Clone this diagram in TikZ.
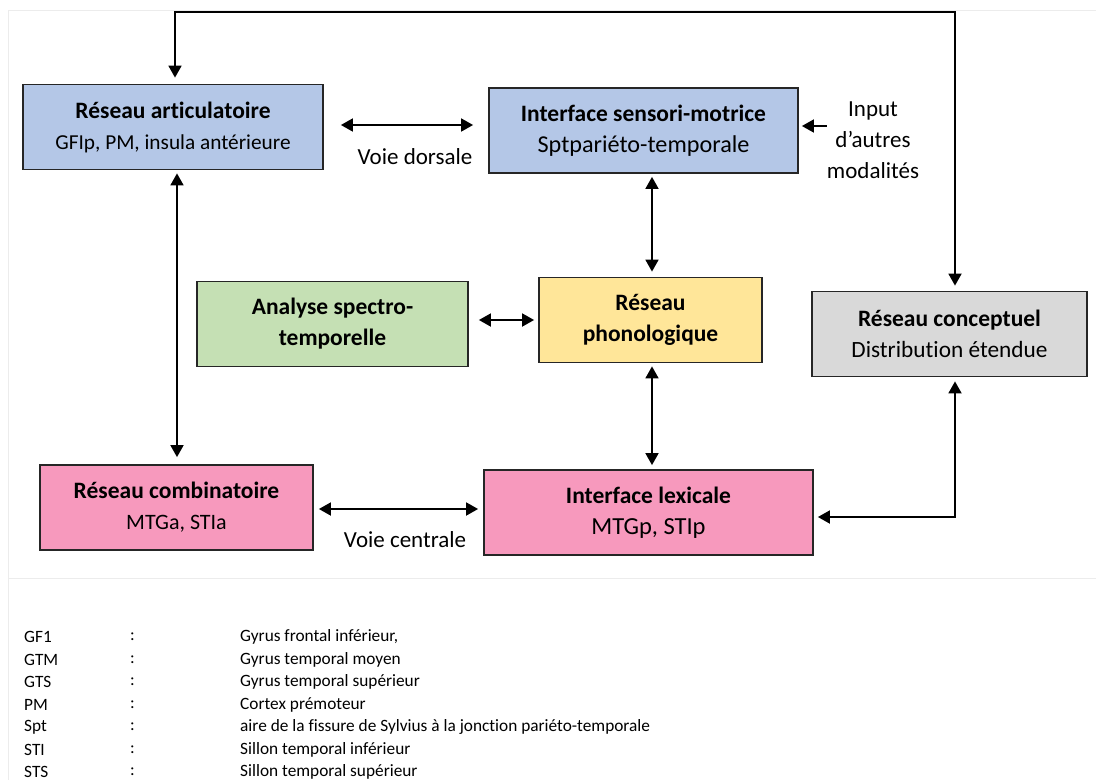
\documentclass[tikz,border=0pt]{standalone}
\usepackage{fontspec}
\setmainfont{Carlito}[Ligatures=NoCommon]
\usetikzlibrary{arrows.meta}
\definecolor{cblue}{HTML}{B4C7E7}
\definecolor{cgreen}{HTML}{C5E0B4}
\definecolor{cyellow}{HTML}{FFE699}
\definecolor{cgrey}{HTML}{D9D9D9}
\definecolor{cpink}{HTML}{F799BD}
\definecolor{cframe}{HTML}{ECECEC}
\newcommand{\hd}[1]{{\fontsize{23.5}{31}\selectfont\bfseries #1}}
\newcommand{\sub}[2]{{\fontsize{#1}{31}\selectfont #2}}
\begin{document}
\begin{tikzpicture}[x=1pt,y=-1pt,
  box/.style={draw=black!85, line width=1.8pt, align=center, inner sep=0pt,
    minimum height=85pt, font=\fontsize{22.5}{31}\selectfont},
  arr/.style={line width=1.8pt, {Triangle[length=12pt,width=13pt]}-{Triangle[length=12pt,width=13pt]}},
  arrone/.style={line width=1.8pt, -{Triangle[length=12pt,width=13pt]}},
  lbl/.style={font=\fontsize{23}{31}\selectfont, align=center, inner sep=0pt},
  leg/.style={font=\fontsize{17.3}{20}\selectfont, anchor=west, inner sep=0pt}
]
\useasboundingbox (0,0) rectangle (1096,780);
% light frame
\draw[cframe, line width=1pt] (8,780) -- (8,10) -- (1096,10);
\draw[cframe, line width=1pt] (8,578) -- (1096,578);

\node[box, fill=cblue, minimum width=300pt] (artic) at (173,127)
  {\hd{Réseau articulatoire}\\\sub{21.3}{GFIp, PM, insula antérieure}};
\node[box, fill=cblue, minimum width=309pt] (senso) at (643.5,130.5)
  {\hd{Interface sensori-motrice}\\\sub{24.2}{Sptpariéto-temporale}};
\node[box, fill=cgreen, minimum width=271pt] (analy) at (332.5,324)
  {\hd{Analyse spectro-}\\\hd{temporelle}};
\node[box, fill=cyellow, minimum width=223pt] (phono) at (650.5,320)
  {\hd{Réseau}\\\hd{phonologique}};
\node[box, fill=cgrey, minimum width=275pt] (conc) at (949.5,334)
  {\hd{Réseau conceptuel}\\\sub{23.3}{Distribution étendue}};
\node[box, fill=cpink, minimum width=273pt] (combi) at (176.5,507.5)
  {\hd{Réseau combinatoire}\\\sub{22}{MTGa, STIa}};
\node[box, fill=cpink, minimum width=329pt] (lexi) at (648.5,512.5)
  {\hd{Interface lexicale}\\\sub{24.5}{MTGp, STIp}};

\node[lbl] (input) at (873,140) {Input\\d’autres\\modalités};
\node[lbl] (vdors) at (415,157) {Voie dorsale};
\node[lbl] (vcent) at (405,540) {Voie centrale};

\coordinate (tl) at (175,12);
\coordinate (tr) at (955,12);
\coordinate (br) at (955,517);

% feedback loop top
\draw[arr, shorten <=6pt, shorten >=5pt, line join=miter] (artic.north -| tl) -- (tl) -- (tr) -- (tr |- conc.north);
% dorsal
\draw[arr, shorten <=17pt, shorten >=15pt] (artic.east |- 0,125) -- (senso.west |- 0,125);
% input
\draw[arrone, shorten >=3pt] (input.west |- 0,126) -- (senso.east |- 0,126);
% sensori - phono
\draw[arr, shorten <=3pt, shorten >=5pt] (senso.south -| 652,0) -- (phono.north -| 652,0);
% analyse - phono
\draw[arr, shorten <=10pt, shorten >=4pt] (analy.east |- 0,320) -- (phono.west |- 0,320);
% phono - lexicale
\draw[arr, shorten <=3pt, shorten >=4pt] (phono.south -| 652,0) -- (lexi.north -| 652,0);
% artic - combi
\draw[arr, shorten <=3pt, shorten >=7pt] (artic.south -| 177,0) -- (combi.north -| 177,0);
% combi - lexi
\draw[arr, shorten <=5pt, shorten >=5pt] (combi.east |- 0,509) -- (lexi.west |- 0,509);
% lexi - conc
\draw[arr, shorten <=4pt, shorten >=4pt, line join=miter] (lexi.east |- br) -- (br) -- (br |- conc.south);

% legend
\foreach \a/\b [count=\i from 0] in {GF1/{Gyrus frontal inférieur,},GTM/Gyrus temporal moyen,GTS/Gyrus temporal supérieur,PM/Cortex prémoteur,Spt/aire de la fissure de Sylvius à la jonction pariéto-temporale,STI/Sillon temporal inférieur,STS/Sillon temporal supérieur}{
  \node[leg] (la\i) at (24,637+22.5*\i) {\a};
  \node[leg] (lc\i) at (130,637+22.5*\i) {:};
  \node[leg] (lb\i) at (240,637+22.5*\i) {\b};
}
\end{tikzpicture}
\end{document}
